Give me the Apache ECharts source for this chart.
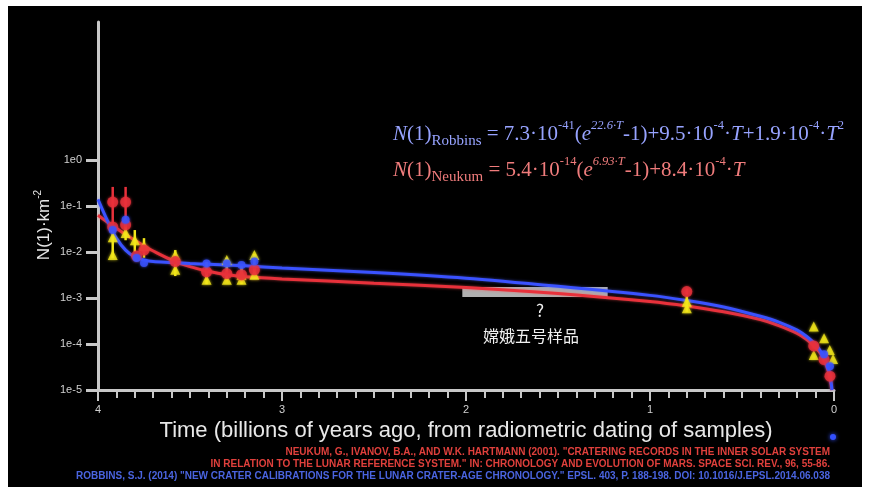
<!DOCTYPE html>
<html><head><meta charset="utf-8">
<script src="https://cdn.jsdelivr.net/npm/echarts@6/dist/echarts.min.js"></script>
<style>html,body{margin:0;padding:0;background:#fff;}#c{width:870px;height:493px;}</style>
</head><body><div id="c"></div>
<script>
// ---- data ----
const yTickValues = [1e-5, 1e-4, 1e-3, 1e-2, 1e-1, 1];
const yTickLabels = ['1e-5', '1e-4', '1e-3', '1e-2', '1e-1', '1e0'];
const xTickLabels = ['0', '1', '2', '3', '4'];

const neukumT = [4.0, 3.95, 3.9, 3.85, 3.8, 3.75, 3.7, 3.6, 3.5, 3.4, 3.3, 3.2, 3.0, 2.5, 2.0, 1.5, 1.0, 0.8, 0.6, 0.4, 0.3, 0.2, 0.15, 0.1, 0.07, 0.05, 0.03, 0.02, 0.012];
const neukumN = [0.063, 0.045, 0.033, 0.024, 0.018, 0.0135, 0.0105, 0.0067, 0.0048, 0.0038, 0.0032, 0.0029, 0.0026, 0.0021, 0.0017, 0.00126, 0.00084, 0.00067, 0.0005, 0.00034, 0.00025, 0.00017, 0.000126, 0.000084, 0.000059, 0.000042, 0.000025, 0.000017, 0.00001];

const robbinsT = [4.0, 3.95, 3.9, 3.85, 3.8, 3.75, 3.7, 3.6, 3.5, 3.4, 3.2, 3.0, 2.5, 2.0, 1.5, 1.0, 0.8, 0.6, 0.4, 0.3, 0.2, 0.15, 0.1, 0.07, 0.05, 0.03, 0.02, 0.0105];
const robbinsN = [0.139, 0.049, 0.020, 0.011, 0.0078, 0.0067, 0.0062, 0.0059, 0.0056, 0.0054, 0.005, 0.0045, 0.0036, 0.0027, 0.0018, 0.00114, 0.00088, 0.00064, 0.0004, 0.0003, 0.0002, 0.000147, 0.000097, 0.000067, 0.000048, 0.000029, 0.000019, 0.00001];

const redT = [3.92, 3.85, 3.92, 3.85, 3.79, 3.75, 3.58, 3.41, 3.30, 3.22, 3.15, 0.80, 0.11, 0.054, 0.022];
const redN = [0.122, 0.122, 0.035, 0.039, 0.0082, 0.011, 0.0062, 0.0037, 0.0034, 0.0032, 0.0041, 0.00138, 9.1e-5, 4.6e-5, 2.0e-5];
const redLow = [0.035, 0.04, 0.03, 0.034, 0.0075, 0.0095, 0.0055, 0.0028, 0.003, 0.0027, 0.0033, 0.0012, 8e-5, 4e-5, 1.7e-5];
const redHigh = [0.26, 0.26, 0.04, 0.045, 0.009, 0.013, 0.007, 0.0042, 0.0038, 0.0037, 0.0047, 0.0016, 1.05e-4, 5.3e-5, 2.4e-5];

const blueT = [3.92, 3.85, 3.79, 3.75, 3.41, 3.30, 3.22, 3.15, 0.054, 0.022];
const blueN = [0.030, 0.050, 0.0074, 0.0058, 0.0056, 0.0056, 0.0052, 0.0062, 6.0e-5, 3.3e-5];

const yellowT = [3.92, 3.92, 3.85, 3.80, 3.75, 3.58, 3.58, 3.41, 3.30, 3.30, 3.22, 3.22, 3.15, 3.15, 0.80, 0.80, 0.11, 0.11, 0.054, 0.023, 0.005];
const yellowN = [0.021, 0.0086, 0.026, 0.018, 0.0135, 0.0086, 0.0041, 0.0025, 0.0067, 0.0025, 0.0025, 0.0032, 0.0086, 0.0032, 0.00083, 0.0006, 2.4e-4, 5.8e-5, 1.33e-4, 7.4e-5, 4.7e-5];
const yellowBarT = [3.92, 3.85, 3.80, 3.75, 3.58, 3.41, 3.30, 3.22, 3.15, 0.80];
const yellowLow = [0.0075, 0.018, 0.010, 0.0075, 0.003, 0.002, 0.0023, 0.002, 0.003, 0.0005];
const yellowHigh = [0.033, 0.040, 0.030, 0.020, 0.011, 0.006, 0.0075, 0.005, 0.009, 0.0011];

const sampleBox = [[2.02, 0.00173], [1.23, 0.00105]];

const refLines = [
  'NEUKUM, G., IVANOV, B.A., AND W.K. HARTMANN (2001). "CRATERING RECORDS IN THE INNER SOLAR SYSTEM',
  'IN RELATION TO THE LUNAR REFERENCE SYSTEM." IN: CHRONOLOGY AND EVOLUTION OF MARS. SPACE SCI. REV., 96, 55-86.',
  'ROBBINS, S.J. (2014) "NEW CRATER CALIBRATIONS FOR THE LUNAR CRATER-AGE CHRONOLOGY." EPSL. 403, P. 188-198. DOI: 10.1016/J.EPSL.2014.06.038'
];

// ---- chart ----
const zip = (a, b) => a.map((v, i) => [v, b[i]]);
const zip3 = (a, b, c) => a.map((v, i) => [v, b[i], c[i]]);
const BLUE = '#3a52ff', RED = '#e8313b', YEL = '#f3e71a';

function errBar(color, width) {
  return function (params, api) {
    const p1 = api.coord([api.value(0), api.value(1)]);
    const p2 = api.coord([api.value(0), api.value(2)]);
    return { type: 'line', shape: { x1: p1[0], y1: p1[1], x2: p2[0], y2: p2[1] },
      style: { stroke: color, lineWidth: width } };
  };
}

const chart = echarts.init(document.getElementById('c'));
const serif = 'Liberation Serif, DejaVu Serif, serif';
function eqRich(color) {
  return {
    p: { fontFamily: serif, fontSize: 21, fill: color, lineHeight: 30 },
    i: { fontFamily: serif, fontSize: 21, fill: color, fontStyle: 'italic', lineHeight: 30 },
    sup: { fontFamily: serif, fontSize: 12.5, fill: color, verticalAlign: 'top', lineHeight: 18 },
    supi: { fontFamily: serif, fontSize: 12.5, fill: color, fontStyle: 'italic', verticalAlign: 'top', lineHeight: 18 },
    sub: { fontFamily: serif, fontSize: 15, fill: color, verticalAlign: 'bottom', lineHeight: 15 }
  };
}

chart.setOption({
  backgroundColor: '#ffffff',
  animation: false,
  graphic: [
    { type: 'rect', shape: { x: 8, y: 6, width: 854, height: 481 }, style: { fill: '#000' }, z: -10, silent: true },
    { type: 'text', x: 393, y: 134, z: 10, style: {
      text: '{i|N}{p|(1)}{sub|Robbins}{p| = 7.3·10}{sup|-41}{p|(}{i|e}{supi|22.6·T}{p|-1)+9.5·10}{sup|-4}{p|·}{i|T}{p|+1.9·10}{sup|-4}{p|·}{i|T}{sup|2}',
      rich: eqRich('#97a3ff'), fill: '#97a3ff', verticalAlign: 'middle' } },
    { type: 'text', x: 393, y: 170, z: 10, style: {
      text: '{i|N}{p|(1)}{sub|Neukum}{p| = 5.4·10}{sup|-14}{p|(}{i|e}{supi|6.93·T}{p|-1)+8.4·10}{sup|-4}{p|·}{i|T}',
      rich: eqRich('#f07c7c'), fill: '#f07c7c', verticalAlign: 'middle' } },
    { type: 'text', x: 44, y: 225, rotation: Math.PI / 2, z: 10, style: {
      text: '{a|N(1)·km}{s|-2}', align: 'center', verticalAlign: 'middle', fill: '#e6e6e6',
      rich: { a: { fontFamily: 'Liberation Sans, Arial', fontSize: 17, fill: '#e6e6e6', lineHeight: 22 },
              s: { fontFamily: 'Liberation Sans, Arial', fontSize: 10, fill: '#e6e6e6', verticalAlign: 'top', lineHeight: 12 } } } },
    { type: 'text', x: 540, y: 311, z: 10, style: { text: '?', align: 'center', verticalAlign: 'middle',
      fontFamily: 'Noto Sans CJK SC', fontSize: 17, fill: '#f0f0f0' } },
    { type: 'text', x: 531, y: 336, z: 10, style: { text: '嫦娥五号样品', align: 'center', verticalAlign: 'middle',
      fontFamily: 'Noto Sans CJK SC', fontSize: 16, fill: '#f0f0f0' } },
    { type: 'circle', shape: { cx: 833, cy: 437, r: 3 }, style: { fill: '#3350ff', shadowBlur: 4, shadowColor: '#3350ff' } },
    { type: 'text', x: 830, y: 452, z: 10, style: { text: refLines[0], align: 'right', verticalAlign: 'middle',
      fontFamily: 'Liberation Sans, Arial', fontWeight: 'bold', fontSize: 10, fill: '#e0403c' } },
    { type: 'text', x: 830, y: 464, z: 10, style: { text: refLines[1], align: 'right', verticalAlign: 'middle',
      fontFamily: 'Liberation Sans, Arial', fontWeight: 'bold', fontSize: 10, fill: '#e0403c' } },
    { type: 'text', x: 830, y: 476, z: 10, style: { text: refLines[2], align: 'right', verticalAlign: 'middle',
      fontFamily: 'Liberation Sans, Arial', fontWeight: 'bold', fontSize: 10, fill: '#4a64e0' } }
  ],
  grid: [
    { left: 98, right: 36, top: 22, bottom: 103 },
    { left: 98, right: 36, top: 160, bottom: 103 }
  ],
  xAxis: [
    { gridIndex: 0, type: 'value', min: 0, max: 4, interval: 1, inverse: true,
      name: 'Time (billions of years ago, from radiometric dating of samples)',
      nameLocation: 'middle', nameGap: 30,
      nameTextStyle: { fontFamily: 'Liberation Sans, Arial', fontSize: 22, color: '#e8e8e8' },
      axisLine: { onZero: false, lineStyle: { color: '#c8c8c8', width: 3 } },
      axisTick: { show: true, length: 11, lineStyle: { color: '#c8c8c8', width: 2 } },
      minorTick: { show: true, splitNumber: 10, length: 8, lineStyle: { color: '#c8c8c8', width: 2 } },
      axisLabel: { color: '#d0d0d0', fontSize: 11, margin: 14, fontFamily: 'Liberation Sans, Arial',
        formatter: v => xTickLabels[Math.round(v)] },
      splitLine: { show: false } },
    { gridIndex: 1, type: 'value', min: 0, max: 4, inverse: true, show: false }
  ],
  yAxis: [
    { gridIndex: 0, type: 'log', min: 1e-5, max: 1000, logBase: 10, position: 'left',
      axisLine: { show: true, onZero: false, lineStyle: { color: '#c8c8c8', width: 3 } },
      axisTick: { show: false }, axisLabel: { show: false }, splitLine: { show: false } },
    { gridIndex: 1, type: 'log', min: 1e-5, max: 1, logBase: 10, position: 'left',
      axisLine: { show: false, onZero: false },
      axisTick: { show: true, length: 12, lineStyle: { color: '#c8c8c8', width: 3 } },
      axisLabel: { color: '#d0d0d0', fontSize: 11, margin: 16, fontFamily: 'Liberation Sans, Arial',
        formatter: v => { const i = yTickValues.findIndex(t => Math.abs(Math.log10(t) - Math.log10(v)) < 0.01); return i >= 0 ? yTickLabels[i] : ''; } },
      splitLine: { show: false } }
  ],
  series: [
    { type: 'line', name: 'Neukum', xAxisIndex: 0, yAxisIndex: 0, data: zip(neukumT, neukumN), showSymbol: false,
      smooth: 0.3, lineStyle: { color: RED, width: 3, shadowBlur: 3, shadowColor: 'rgba(255,80,80,0.6)' }, z: 3 },
    { type: 'line', name: 'box', xAxisIndex: 0, yAxisIndex: 0, data: [], z: 4,
      markArea: { silent: true, itemStyle: { color: 'rgba(225,225,225,0.78)' }, data: [[{ coord: sampleBox[0] }, { coord: sampleBox[1] }]] } },
    { type: 'line', name: 'Robbins', xAxisIndex: 0, yAxisIndex: 0, data: zip(robbinsT, robbinsN), showSymbol: false,
      smooth: 0.3, lineStyle: { color: BLUE, width: 3, shadowBlur: 3, shadowColor: 'rgba(80,100,255,0.6)' }, z: 5 },
    { type: 'custom', xAxisIndex: 0, yAxisIndex: 0, renderItem: errBar(YEL, 2.5), data: zip3(yellowBarT, yellowLow, yellowHigh), z: 6 },
    { type: 'custom', xAxisIndex: 0, yAxisIndex: 0, renderItem: errBar(RED, 2.5), data: zip3(redT, redLow, redHigh), z: 6 },
    { type: 'scatter', xAxisIndex: 0, yAxisIndex: 0, data: zip(yellowT, yellowN), symbol: 'triangle', symbolSize: 10,
      itemStyle: { color: YEL, shadowBlur: 3, shadowColor: YEL }, z: 7 },
    { type: 'scatter', xAxisIndex: 0, yAxisIndex: 0, data: zip(redT, redN), symbol: 'circle', symbolSize: 11,
      itemStyle: { color: RED, shadowBlur: 3, shadowColor: RED }, z: 8 },
    { type: 'scatter', xAxisIndex: 0, yAxisIndex: 0, data: zip(blueT, blueN), symbol: 'circle', symbolSize: 8,
      itemStyle: { color: BLUE, shadowBlur: 3, shadowColor: BLUE }, z: 9 }
  ]
});
</script></body></html>
